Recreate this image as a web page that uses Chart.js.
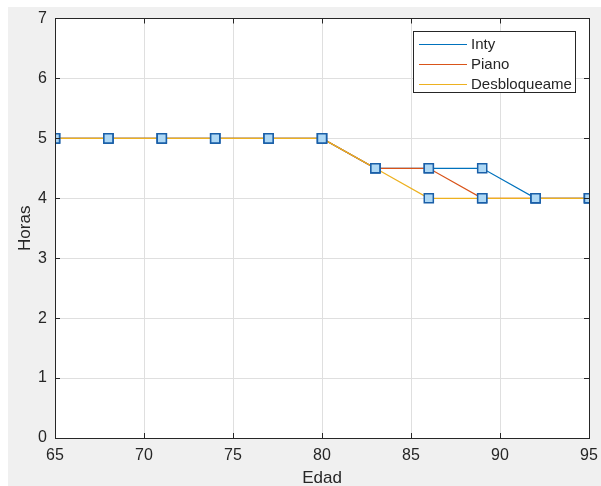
<!DOCTYPE html>
<html>
<head>
<meta charset="utf-8">
<script src="https://cdn.jsdelivr.net/npm/chart.js@4/dist/chart.umd.min.js"></script>
<style>
  html, body { margin: 0; padding: 0; background: #fff; }
  #wrap { position: relative; width: 601px; height: 486px; }
  #bg { position: absolute; left: 8px; top: 7px; right: 0; bottom: 0; background: #f0f0f0; }
  canvas { position: absolute; left: 0; top: 0; }
</style>
</head>
<body>
<div id="wrap">
  <div id="bg"></div>
  <canvas id="chart" width="601" height="486"></canvas>
</div>
<script>
// DATA
const edad = [65, 68, 71, 74, 77, 80, 83, 86, 89, 92, 95];
const inty = [5, 5, 5, 5, 5, 5, 4.5, 4.5, 4.5, 4, 4];
const piano = [5, 5, 5, 5, 5, 5, 4.5, 4.5, 4, 4, 4];
const desbloqueame = [5, 5, 5, 5, 5, 5, 4.5, 4, 4, 4, 4];
const seriesNames = ['Inty', 'Piano', 'Desbloqueame'];
const seriesColors = ['#0072BD', '#D95319', '#EDB120'];
const xTicks = [65, 70, 75, 80, 85, 90, 95];
const yTicks = [0, 1, 2, 3, 4, 5, 6, 7];

const FONT = '"Liberation Sans", Arial, sans-serif';
const TXT = '#262626';

function toPoints(ys) {
    return edad.map(function(x, i) { return { x: x, y: ys[i] }; });
}

// lines only, later series on top (like matlab hold on)
function lineSet(label, ys, color, order) {
    return {
        label: label,
        data: toPoints(ys),
        borderColor: color,
        borderWidth: 1.2,
        pointRadius: 0,
        tension: 0,
        order: order
    };
}

// square markers drawn above every line
function markerSet(ys) {
    return {
        label: 'markers',
        data: toPoints(ys),
        showLine: false,
        pointStyle: 'rect',
        pointRadius: 6.4,
        pointBackgroundColor: '#aed8f5',
        pointBorderColor: '#1a5fa8',
        pointBorderWidth: 1.5,
        order: 0
    };
}

// white axes background
const whiteArea = {
    id: 'whiteArea',
    beforeDraw: function(chart) {
        const a = chart.chartArea;
        chart.ctx.save();
        chart.ctx.fillStyle = '#fff';
        chart.ctx.fillRect(a.left, a.top, a.right - a.left, a.bottom - a.top);
        chart.ctx.restore();
    }
};

// box, inner ticks, legend, axis titles
const matlabLook = {
    id: 'matlabLook',
    afterDraw: function(chart) {
        const ctx = chart.ctx;
        const a = chart.chartArea;
        const sx = chart.scales.x, sy = chart.scales.y;
        ctx.save();
        ctx.strokeStyle = TXT;
        ctx.lineWidth = 1;
        ctx.beginPath();
        xTicks.forEach(function(t) {
            const px = Math.round(sx.getPixelForValue(t)) + 0.5;
            ctx.moveTo(px, a.bottom); ctx.lineTo(px, a.bottom - 5);
            ctx.moveTo(px, a.top); ctx.lineTo(px, a.top + 5);
        });
        yTicks.forEach(function(t) {
            const py = Math.floor(sy.getPixelForValue(t)) + 0.5;
            ctx.moveTo(a.left, py); ctx.lineTo(a.left + 5, py);
            ctx.moveTo(a.right, py); ctx.lineTo(a.right - 5, py);
        });
        ctx.stroke();
        ctx.strokeRect(Math.round(a.left) + 0.5, Math.floor(a.top) + 0.5,
            Math.round(a.right - a.left), Math.round(a.bottom - a.top));

        // legend
        const lx = 413.5, ly = 31.5, lw = 162, lh = 61;
        ctx.fillStyle = '#fff';
        ctx.fillRect(lx, ly, lw, lh);
        ctx.strokeStyle = TXT;
        ctx.strokeRect(lx, ly, lw, lh);
        ctx.font = '15px ' + FONT;
        ctx.textBaseline = 'middle';
        seriesNames.forEach(function(name, i) {
            const yy = 44 + i * 20;
            ctx.strokeStyle = seriesColors[i];
            ctx.beginPath();
            ctx.moveTo(419, yy + 0.5); ctx.lineTo(467, yy + 0.5);
            ctx.stroke();
            ctx.fillStyle = TXT;
            ctx.fillText(name, 471, yy + 1);
        });

        // axis titles
        ctx.font = '17px ' + FONT;
        ctx.textAlign = 'center';
        ctx.fillStyle = TXT;
        ctx.fillText('Edad', (a.left + a.right) / 2, 478);
        ctx.translate(25, (a.top + a.bottom) / 2);
        ctx.rotate(-Math.PI / 2);
        ctx.fillText('Horas', 0, 0);
        ctx.restore();
    }
};

const allY = [inty, piano, desbloqueame];
const datasets = seriesNames.map(function(name, i) {
    return lineSet(name, allY[i], seriesColors[i], 3 - i);
}).concat(allY.map(markerSet));

const chart = new Chart(document.getElementById('chart'), {
    type: 'line',
    data: { datasets: datasets },
    options: {
        responsive: false,
        animation: false,
        layout: { padding: { left: 0, top: 18.5, right: 12, bottom: 0 } },
        plugins: {
            legend: { display: false },
            tooltip: { enabled: false },
            title: { display: false }
        },
        scales: {
            x: {
                type: 'linear',
                min: 65, max: 95,
                afterBuildTicks: function(s) { s.ticks = xTicks.map(function(v) { return { value: v }; }); },
                afterFit: function(s) { s.height = 48; s.paddingRight = 0; s.paddingLeft = 0; },
                grid: { color: '#dfdfdf', drawTicks: false },
                border: { display: false },
                ticks: { color: TXT, font: { family: FONT, size: 16 }, padding: 8, maxRotation: 0 }
            },
            y: {
                min: 0, max: 7,
                afterBuildTicks: function(s) { s.ticks = yTicks.map(function(v) { return { value: v }; }); },
                afterFit: function(s) { s.width = 55; s.paddingTop = 0; s.paddingBottom = 0; },
                grid: { color: '#dfdfdf', drawTicks: false },
                border: { display: false },
                ticks: { color: TXT, font: { family: FONT, size: 16 }, padding: 8 }
            }
        }
    },
    plugins: [whiteArea, matlabLook]
});
</script>
</body>
</html>
